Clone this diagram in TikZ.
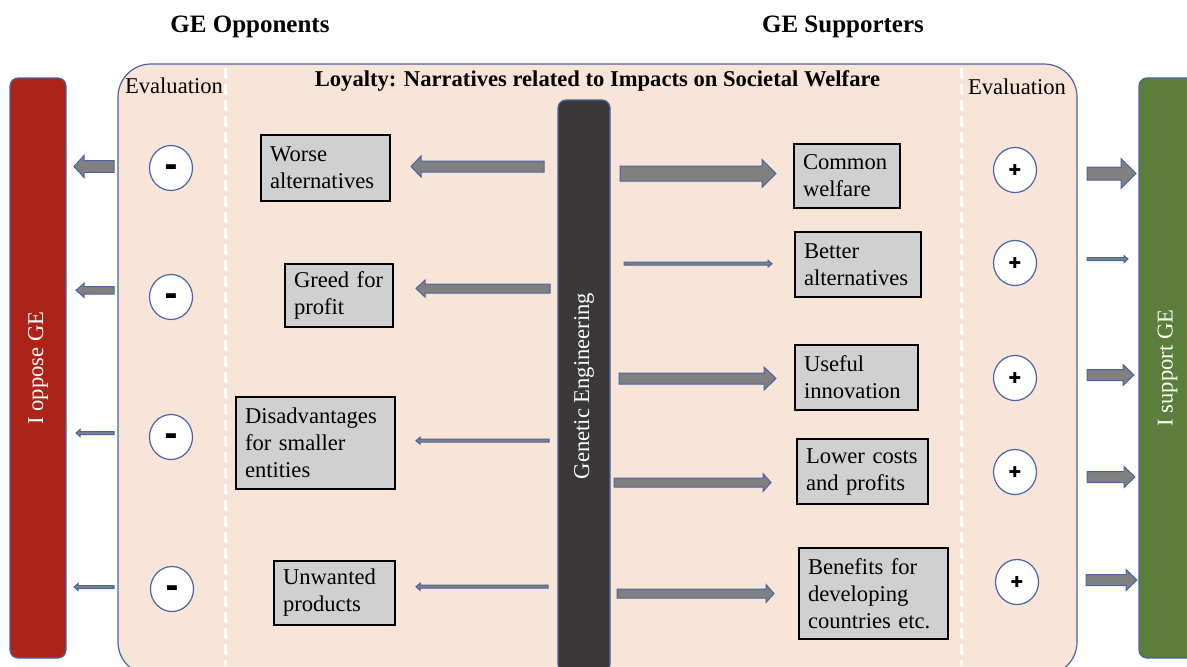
\documentclass[tikz,border=0pt]{standalone}
\usepackage{fontspec}
\setmainfont{Liberation Serif}
\newfontfamily\signfont{DejaVu Sans}
\usetikzlibrary{calc,shapes.geometric}

\definecolor{opposered}{RGB}{174,35,24}
\definecolor{supportgreen}{RGB}{91,127,59}
\definecolor{panelfill}{RGB}{248,229,216}
\definecolor{edgeblue}{RGB}{72,100,165}
\definecolor{gedark}{RGB}{58,56,57}
\definecolor{boxgray}{RGB}{208,208,208}
\definecolor{arrowgray}{RGB}{128,128,128}

\newcommand{\bodysize}{\fontsize{11.3}{13.5}\selectfont}
\newcommand{\evalneg}{{\signfont\fontsize{6.5}{7}\selectfont ▬}}
\newcommand{\evalpos}{{\signfont\fontsize{7.5}{8}\selectfont ✚}}
% tail, tip, half body, half head, head length (in px)
\newcommand{\blockarrow}[5]{%
  \draw [style=block arrow] let \p1=(#1), \p2=(#2), \n1={sign(\x2-\x1)} in
    (\x1,{\y1+#3*0.5pt}) -- ({\x2-\n1*#5*0.5pt},{\y1+#3*0.5pt}) -- ({\x2-\n1*#5*0.5pt},{\y1+#4*0.5pt})
    -- (\x2,\y1) -- ({\x2-\n1*#5*0.5pt},{\y1-#4*0.5pt}) -- ({\x2-\n1*#5*0.5pt},{\y1-#3*0.5pt})
    -- (\x1,{\y1-#3*0.5pt}) -- cycle;}

\begin{document}
\begin{tikzpicture}[x=0.5pt, y=-0.5pt, every node/.style={font=\bodysize}]
        \tikzstyle{panel}=[draw=edgeblue, line width=0.6pt]
        \tikzstyle{bar}=[panel, rounded corners=4pt, text=white, inner sep=0pt]
        \tikzstyle{narrative}=[draw=black, line width=0.7pt, fill=boxgray, align=left, inner xsep=4.5pt, inner ysep=0pt]
        \tikzstyle{eval}=[ellipse, draw=edgeblue, line width=0.6pt, fill=white, minimum width=21.5pt, minimum height=22.5pt, inner sep=0pt]
        \tikzstyle{divider}=[white, line width=1.5pt, dash pattern=on 5pt off 3pt]
        \tikzstyle{block arrow}=[draw=edgeblue, fill=arrowgray, line width=0.5pt, line join=miter]
        \tikzstyle{label}=[inner sep=0pt]

        \useasboundingbox (0,0) rectangle (1187,666);
        \clip (0,0) rectangle (1187,666);

        %panel and dividers
        \draw [style=panel, fill=panelfill, rounded corners=16.5pt] (118,64) rectangle (1077,675);
        \draw [style=divider] (225.5,68) to (225.5,666);
        \draw [style=divider] (961,68) to (961,666);

        %bars
        \node [style=bar, fill=opposered, rotate=90, minimum width=290pt, minimum height=28pt] (1) at (38,368) {I oppose GE};
        \node [style=bar, fill=supportgreen, rotate=90, minimum width=290pt, minimum height=28.5pt] (2) at (1167.5,368) {I support GE};
        \node [style=bar, fill=gedark, rotate=90, minimum width=286pt, minimum height=26pt] (3) at (584,386) {Genetic Engineering};

        %headings
        \node [style=label, font=\fontsize{12.5}{15}\bfseries] (4) at (250,27) {GE Opponents};
        \node [style=label, font=\fontsize{12.5}{15}\bfseries] (5) at (843,27) {GE Supporters};
        \node [style=label, font=\bodysize\bfseries] (6) at (597.5,81) {Loyalty: Narratives related to Impacts on Societal Welfare};
        \node [style=label] (7) at (174,86) {Evaluation};
        \node [style=label] (8) at (1017,87) {Evaluation};

        %opponent narratives
        \node [style=narrative, text width=55.5pt, minimum height=33pt] (11) at (325.5,168) {Worse\\alternatives};
        \node [style=narrative, text width=45pt, minimum height=31.5pt] (12) at (339,295.5) {Greed for\\profit};
        \node [style=narrative, text width=70.5pt, minimum height=46pt] (13) at (315.5,443) {Disadvantages\\for smaller\\entities};
        \node [style=narrative, text width=51.5pt, minimum height=32pt] (14) at (334.5,593) {Unwanted\\products};

        %supporter narratives
        \node [style=narrative, text width=44pt, minimum height=32pt] (15) at (847,176) {Common\\welfare};
        \node [style=narrative, text width=54pt, minimum height=32.5pt] (16) at (858,264.5) {Better\\alternatives};
        \node [style=narrative, text width=52.5pt, minimum height=32.5pt] (17) at (856.5,377.5) {Useful\\innovation};
        \node [style=narrative, text width=56.5pt, minimum height=32.5pt] (18) at (862.5,471.5) {Lower costs\\and profits};
        \node [style=narrative, text width=65.5pt, minimum height=45.5pt] (19) at (873.5,593.5) {Benefits for\\developing\\countries etc.};

        %evaluations
        \node [style=eval] (21) at (171,168) {\evalneg};
        \node [style=eval] (22) at (171,297) {\evalneg};
        \node [style=eval] (23) at (171,437) {\evalneg};
        \node [style=eval] (24) at (172,589) {\evalneg};
        \node [style=eval] (25) at (1015,170) {\evalpos};
        \node [style=eval] (26) at (1015,263) {\evalpos};
        \node [style=eval] (27) at (1015,378) {\evalpos};
        \node [style=eval] (28) at (1015,472) {\evalpos};
        \node [style=eval] (29) at (1017,582) {\evalpos};

        %arrow ends
        \coordinate (a1) at (544,166.5);  \coordinate (b1) at (411,166.5);
        \coordinate (a2) at (550,288.5);  \coordinate (b2) at (416,288.5);
        \coordinate (a3) at (549,440.7);  \coordinate (b3) at (416,440.7);
        \coordinate (a4) at (548,586.7);  \coordinate (b4) at (416,586.7);
        \coordinate (c1) at (114,166.5);  \coordinate (d1) at (74,166.5);
        \coordinate (c2) at (114,290.3);  \coordinate (d2) at (76,290.3);
        \coordinate (c3) at (114,433);    \coordinate (d3) at (76,433);
        \coordinate (c4) at (114,587);    \coordinate (d4) at (74,587);
        \coordinate (e1) at (620,173.5);  \coordinate (f1) at (776,173.5);
        \coordinate (e2) at (624,263.7);  \coordinate (f2) at (772,263.7);
        \coordinate (e3) at (619,378.5);  \coordinate (f3) at (776,378.5);
        \coordinate (e4) at (614,482.5);  \coordinate (f4) at (771,482.5);
        \coordinate (e5) at (617,593.5);  \coordinate (f5) at (774,593.5);
        \coordinate (g1) at (1087,173.5); \coordinate (h1) at (1136,173.5);
        \coordinate (g2) at (1087,259);   \coordinate (h2) at (1128,259);
        \coordinate (g3) at (1087,375);   \coordinate (h3) at (1134,375);
        \coordinate (g4) at (1087,477);   \coordinate (h4) at (1135,477);
        \coordinate (g5) at (1086,580);   \coordinate (h5) at (1137,580);

        %arrows
        \blockarrow{a1}{b1}{5.5}{10.5}{10}
        \blockarrow{a2}{b2}{4.5}{8.5}{9}
        \blockarrow{a3}{b3}{1.5}{3.5}{4}
        \blockarrow{a4}{b4}{1.5}{3.5}{4}
        \blockarrow{c1}{d1}{5.8}{11}{10}
        \blockarrow{c2}{d2}{3.7}{7}{8}
        \blockarrow{c3}{d3}{1.5}{3.5}{4}
        \blockarrow{c4}{d4}{1.5}{3.5}{4}
        \blockarrow{e1}{f1}{7.5}{14}{14}
        \blockarrow{e2}{f2}{1.5}{3.5}{4}
        \blockarrow{e3}{f3}{5.5}{11.5}{12}
        \blockarrow{e4}{f4}{4.5}{9}{8}
        \blockarrow{e5}{f5}{4.5}{9}{8}
        \blockarrow{g1}{h1}{6.5}{15}{15}
        \blockarrow{g2}{h2}{1.5}{3.5}{4}
        \blockarrow{g3}{h3}{5.5}{10.5}{11}
        \blockarrow{g4}{h4}{5.5}{10.5}{11}
        \blockarrow{g5}{h5}{5.5}{10.5}{11}
\end{tikzpicture}
\end{document}
